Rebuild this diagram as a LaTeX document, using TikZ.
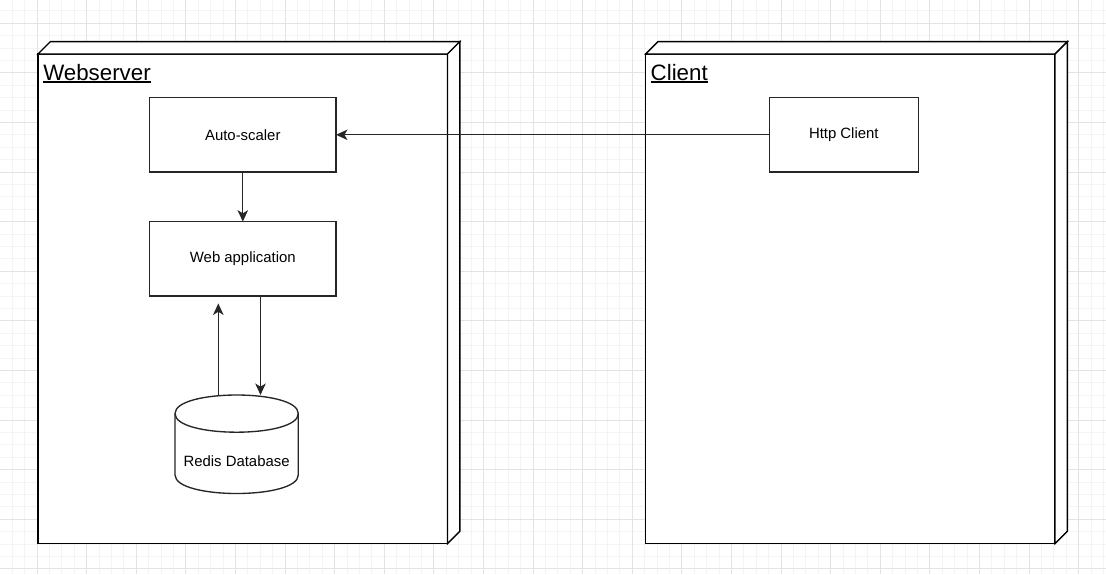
\documentclass[tikz,border=0pt]{standalone}
\usepackage{fontspec}
\setmainfont{Liberation Sans}
\usetikzlibrary{arrows.meta}
\definecolor{gridminor}{RGB}{244,244,244}
\definecolor{gridmajor}{RGB}{227,227,227}
\tikzset{
  minorline/.style={draw=gridminor, line width=1pt},
  majorline/.style={draw=gridmajor, line width=1pt},
  boxline/.style={draw=black, line width=1.4pt, line join=miter, fill=white},
  frontbox/.style={boxline, rectangle, inner sep=0pt, outer sep=0pt},
  compbox/.style={draw=black!85, line width=1.35pt, fill=white, rectangle, inner sep=0pt, outer sep=0pt,
    minimum height=74.3pt, font=\fontsize{14.9}{17}\selectfont},
  titletext/.style={inner sep=0pt, outer sep=0pt, anchor=base west, font=\fontsize{22.3}{26}\selectfont},
  uline/.style={draw=black, line width=1.5pt},
  arr/.style={draw=black!85, line width=1.35pt, -{Stealth[length=11.5pt, width=10.5pt, inset=3.2pt]}},
  celltext/.style={inner sep=0pt, font=\fontsize{14.9}{17}\selectfont}
}
\begin{document}
\begin{tikzpicture}[x=1pt, y=-1pt]
\useasboundingbox (0,0) rectangle (1106,574);
\fill[white] (0,0) rectangle (1106,574);
% grid
\foreach \i in {0,...,90} {\draw[minorline] ({-0.2+12.4*\i},0) -- ({-0.2+12.4*\i},574);}
\foreach \i in {1,...,47} {\draw[minorline] (0,{-1.5+12.4*\i}) -- (1106,{-1.5+12.4*\i});}
\foreach \i in {1,...,23} {\draw[majorline] ({-12.6+49.6*\i},0) -- ({-12.6+49.6*\i},574);}
\foreach \i in {0,...,11} {\draw[majorline] (0,{23.3+49.6*\i}) -- (1106,{23.3+49.6*\i});}

% Webserver 3D box
\node[frontbox, minimum width=409.5pt, minimum height=489.5pt, anchor=north west] (ws) at (38,54) {};
\draw[boxline] (ws.north west) -- ++(12.4,-12.4) -- ([shift={(12.4,-12.4)}]ws.north east) -- (ws.north east) -- cycle;
\draw[boxline] (ws.north east) -- ++(12.4,-12.4) -- ([shift={(12.4,-12.4)}]ws.south east) -- (ws.south east) -- cycle;
\node[titletext] (wst) at (43.3,80) {Webserver};
\draw[uline] ([yshift=-2pt]wst.base west) -- ([yshift=-2pt]wst.base east);

% Client 3D box
\node[frontbox, minimum width=409.3pt, minimum height=489.5pt, anchor=north west] (cl) at (645.7,54) {};
\draw[boxline] (cl.north west) -- ++(12.4,-12.4) -- ([shift={(12.4,-12.4)}]cl.north east) -- (cl.north east) -- cycle;
\draw[boxline] (cl.north east) -- ++(12.4,-12.4) -- ([shift={(12.4,-12.4)}]cl.south east) -- (cl.south east) -- cycle;
\node[titletext] (clt) at (650.7,80) {Client};
\draw[uline] ([yshift=-2pt]clt.base west) -- ([yshift=-2pt]clt.base east);

% components
\node[compbox, minimum width=186.5pt] (auto) at (242.8,134.8) {Auto-scaler};
\node[compbox, minimum width=186.5pt] (web) at (242.8,258.8) {Web application};
\node[compbox, minimum width=149pt] (http) at (843.8,134.8) {Http Client};

% cylinder
\draw[draw=black!85, fill=white, line width=1.35pt] (175,413.6) .. controls (175,388.8) and (298.3,388.8) .. (298.3,413.6)
  -- (298.3,474.9) .. controls (298.3,499.7) and (175,499.7) .. (175,474.9) -- cycle;
\draw[draw=black!85, line width=1.35pt] (175,413.6) .. controls (175,438.4) and (298.3,438.4) .. (298.3,413.6);
\coordinate (dbtop) at (236.6,395);
\node[celltext] (db) at (236.6,461.5) {Redis Database};

% connectors
\draw[arr] (http.west) -- (auto.east);
\draw[arr] (auto.south) -- (web.north);
\draw[arr] ([xshift=17.7pt]web.south) -- ([xshift=17.7pt]web.south |- dbtop);
\draw[arr] ([xshift=-24.5pt]web.south |- dbtop) -- ([xshift=-24.5pt, yshift=-7.5pt]web.south);
\end{tikzpicture}
\end{document}
